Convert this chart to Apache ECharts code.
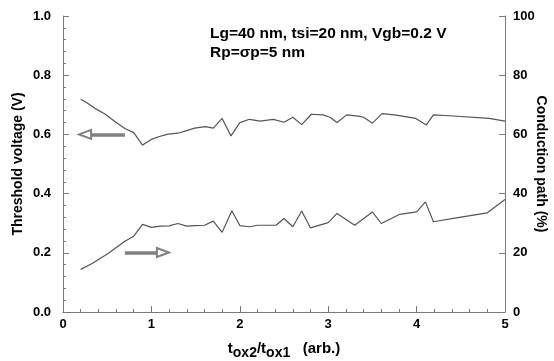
<!DOCTYPE html>
<html><head><meta charset="utf-8">
<script src="https://cdn.jsdelivr.net/npm/echarts@6/dist/echarts.min.js"></script>
<style>html,body{margin:0;padding:0;background:#fff}#c{width:554px;height:361px}</style>
</head><body><div id="c"></div>
<script>
// Threshold voltage (V), left axis
const vthX = [0.2,0.27,0.36,0.48,0.59,0.70,0.80,0.90,1.0,1.08,1.19,1.30,1.40,1.49,1.61,1.70,1.80,1.90,2.0,2.11,2.23,2.38,2.50,2.60,2.70,2.81,2.94,3.02,3.10,3.21,3.34,3.40,3.50,3.61,3.77,3.99,4.11,4.19,4.37,4.82,5.0];
const vthY = [0.719,0.707,0.688,0.668,0.643,0.620,0.606,0.564,0.583,0.592,0.601,0.604,0.613,0.621,0.626,0.621,0.654,0.595,0.640,0.651,0.645,0.651,0.641,0.658,0.633,0.668,0.666,0.658,0.640,0.666,0.662,0.658,0.638,0.670,0.665,0.654,0.632,0.666,0.663,0.654,0.645];
// Conduction path (%), right axis
const cpX = [0.2,0.33,0.51,0.70,0.80,0.90,1.0,1.10,1.20,1.30,1.40,1.49,1.60,1.70,1.80,1.91,2.0,2.11,2.20,2.41,2.50,2.60,2.70,2.80,3.0,3.10,3.30,3.50,3.60,3.81,4.0,4.10,4.19,4.45,4.80,5.0];
const cpY = [14.4,16.4,19.8,23.9,25.6,29.6,28.6,29.0,29.1,29.9,29.0,29.2,29.3,30.7,26.9,34.2,29.2,28.8,29.3,29.3,31.6,28.8,34.1,28.4,30.2,33.3,29.3,33.8,29.9,33.0,33.8,37.2,30.5,31.8,33.5,38.0];
// annotation arrows (data coordinates)
const arrowLeft = [[0.25,0.60],[0.70,0.60]];
const arrowRight = [[0.70,20.1],[1.13,20.1]];

const chart = echarts.init(document.getElementById('c'));
const axisCol = '#7a7a7a';
const lab = {color:'#000', fontFamily:'Liberation Sans', fontWeight:'bold', fontSize:13};
const arrowStyle = (pts) => ({
  silent:true, symbol:['none','none'], label:{show:false},
  lineStyle:{color:'#808080', width:3.5, type:'solid'},
  data:[[{coord:pts[0]},{coord:pts[1]}]]
});
chart.setOption({
  animation:false,
  grid:{left:63, right:49, top:16, bottom:49, outerBoundsMode:'none', containLabel:false},
  xAxis:{type:'value', min:0, max:5, interval:1,
    name:'{t|t}{s|ox2}{t|/t}{s|ox1}{t|   (arb.)}', nameLocation:'middle', nameGap:25, nameMoveOverlap:false,
    nameTextStyle:{rich:{t:{fontFamily:'Liberation Sans',fontWeight:'bold',fontSize:15,color:'#000'},
      s:{fontFamily:'Liberation Sans',fontWeight:'bold',fontSize:14,color:'#000',padding:[9,0,0,0]}}},
    axisLine:{lineStyle:{color:axisCol}}, axisTick:{inside:true,length:6,lineStyle:{color:axisCol}},
    minorTick:{show:true,splitNumber:5,length:3,lineStyle:{color:axisCol}},
    splitLine:{show:false}, axisLabel:Object.assign({margin:6},lab)},
  yAxis:[
    {type:'value', min:0, max:1, interval:0.2, position:'left',
     name:'Threshold voltage (V)', nameLocation:'middle', nameGap:38, nameMoveOverlap:false,
     nameTextStyle:{fontFamily:'Liberation Sans',fontWeight:'bold',fontSize:14,color:'#000'},
     axisLine:{show:true,lineStyle:{color:axisCol}}, axisTick:{show:true,inside:true,length:6,lineStyle:{color:axisCol}},
     minorTick:{show:true,splitNumber:5,length:3,lineStyle:{color:axisCol}},
     splitLine:{show:false}, axisLabel:Object.assign({margin:12,formatter:v=>v.toFixed(1)},lab)},
    {type:'value', min:0, max:100, interval:20, position:'right',
     name:'Conduction path (%)', nameLocation:'middle', nameGap:29, nameRotate:-90, nameMoveOverlap:false,
     nameTextStyle:{fontFamily:'Liberation Sans',fontWeight:'bold',fontSize:14,color:'#000'},
     axisLine:{show:true,lineStyle:{color:axisCol}}, axisTick:{show:true,inside:true,length:6,lineStyle:{color:axisCol}},
     splitLine:{show:false}, axisLabel:Object.assign({margin:8},lab)}
  ],
  graphic:[
    {type:'text', left:210, top:26, style:{text:'Lg=40 nm, tsi=20 nm, Vgb=0.2 V', font:'bold 15.5px "Liberation Sans"', fill:'#000'}},
    {type:'text', left:210, top:45, style:{text:'Rp=σp=5 nm', font:'bold 15.5px "Liberation Sans"', fill:'#000'}}
  ],
  series:[
    {type:'line', yAxisIndex:0, data:vthX.map((x,i)=>[x,vthY[i]]), showSymbol:false, symbol:'none',
     lineStyle:{color:'#555',width:1.2},
     markLine:Object.assign(arrowStyle(arrowLeft),{symbol:['emptyTriangle','none'],symbolSize:[9,12]})},
    {type:'line', yAxisIndex:1, data:cpX.map((x,i)=>[x,cpY[i]]), showSymbol:false, symbol:'none',
     lineStyle:{color:'#555',width:1.2},
     markLine:Object.assign(arrowStyle(arrowRight),{symbol:['none','emptyTriangle'],symbolSize:[9,12]})}
  ]
});
</script></body></html>
